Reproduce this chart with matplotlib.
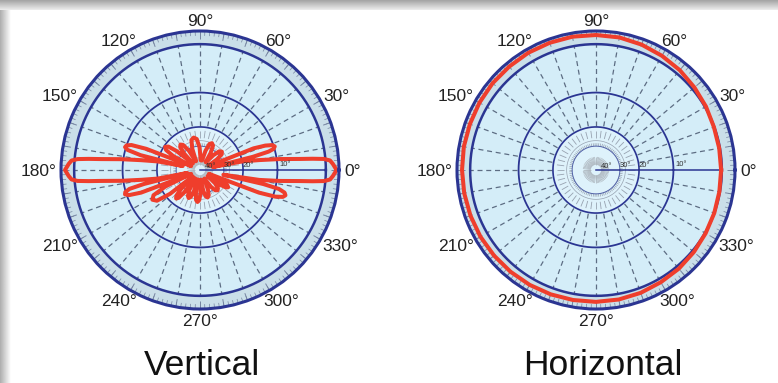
import numpy as np
import matplotlib
matplotlib.use('Agg')
import matplotlib.pyplot as plt
from matplotlib.transforms import ScaledTranslation

plt.rcParams['font.family'] = ['Liberation Sans', 'DejaVu Sans']

# ARRL log-periodic radius: every 2 dB down the radius shrinks by 0.89
K = -np.log(0.89) / 2.0


def to_radius(db):
    return np.exp(np.asarray(db, dtype=float) * K)


def to_db(r):
    return np.log(np.clip(np.asarray(r, dtype=float), 1e-12, None)) / K


# ---- data (angle in degrees, level in dB) ----
vert_angles = [0, 2.6, 4.2, 5.1, 5.7, 6.3, 7.8, 9.5, 11.5, 13,
               14, 15, 16, 17.5, 19, 20.5, 22, 23.5,
               28, 32, 36, 40, 44, 48, 52,
               54, 58, 62, 66, 70, 74, 78,
               86, 91, 96, 101, 106, 110, 114,
               116, 120, 124, 127.5, 131, 134, 137,
               138, 141, 143.5, 146.5, 149.5, 152.5, 156,
               157, 158.5, 160, 161.5, 163, 164.5, 166, 167,
               168.5, 170.5, 172.2, 173.7, 174.3, 174.9, 175.8, 177.4, 180,
               182.6, 184.2, 185.1, 185.7, 186.3, 187.8, 189.5, 191.5, 193,
               194, 195, 196.5, 198, 199.5, 201, 202.5,
               203.5, 205.5, 208.5, 212, 215.5, 218.5, 221,
               222, 225, 227.5, 230, 232.5, 235, 238,
               239, 242, 245, 248, 251, 254, 256,
               257, 260, 262.5, 265.5, 268.5, 271, 274,
               275, 279, 282, 285.5, 289, 292, 296,
               298, 303, 307, 311, 315, 318.5, 322,
               323.5, 326, 328.5, 331, 333.5, 336,
               337.5, 339, 340.5, 342, 343.5, 345, 346.5, 347.5, 348.5,
               350.5, 352.2, 353.7, 354.3, 354.9, 355.8, 357.4, 360]
vert_db = [-0.3, -0.75, -1.1, -1.9, -3.5, -5.5, -9.3, -14.3, -20, -40,
           -16, -11.5, -10.2, -9.8, -10.2, -11.8, -15, -40,
           -45, -33, -28, -27, -28, -33, -45,
           -45, -33, -27.5, -26.5, -27.5, -33, -45,
           -45, -31, -25.5, -24.5, -25.5, -31, -45,
           -45, -31, -26, -25, -26, -31, -45,
           -45, -26, -21.5, -20.5, -21.5, -26, -45,
           -40, -15, -11, -10, -9.8, -10.5, -14, -35,
           -20, -14.5, -9.5, -5.7, -3.7, -2.1, -1.3, -0.95, -0.5,
           -0.95, -1.3, -2.1, -3.7, -5.7, -9.5, -14.5, -20, -40,
           -15, -11, -9.9, -9.7, -10.5, -13.5, -40,
           -45, -22, -16.5, -15.5, -16.5, -22, -45,
           -45, -28, -23.5, -22.5, -23.5, -28, -45,
           -45, -31, -27, -26, -27, -31, -45,
           -45, -30, -26, -25, -26, -30, -45,
           -45, -32, -28, -27, -28, -32, -45,
           -45, -33, -29, -28, -29, -33, -45,
           -30, -25.5, -24.5, -25.5, -30, -45,
           -40, -13.5, -9.5, -8.0, -7.6, -7.9, -9.2, -13, -30,
           -14.3, -9.3, -5.5, -3.5, -1.9, -1.1, -0.75, -0.3]

horiz_angles = list(range(0, 361, 10))
horiz_db = [-1.8, -1.8, -1.75, -1.55, -1.35, -1.1, -0.9, -0.7, -0.55, -0.5,
            -0.45, -0.45, -0.45, -0.5, -0.5, -0.55, -0.6, -0.6, -0.63, -0.65,
            -0.68, -0.7, -0.74, -0.77, -0.8, -0.84, -0.88, -0.9, -0.95, -1.05,
            -1.2, -1.3, -1.45, -1.6, -1.7, -1.78, -1.8]

angle_ticks = list(range(0, 360, 30))
ring_levels = [-1.7, -10, -20]
db_labels = ['40°', '30°', '20°', '10°']
db_label_levels = [-55, -30, -20, -9.5]
titles = ['Vertical', 'Horizontal']

NAVY = '#2b3592'
RED = '#ef3e2c'
GRID = '#5d6d83'
TICK = '#7584a0'
FILL = '#d4edf8'
BAND = '#cadfe9'

full = np.linspace(0, 2 * np.pi, 721)
DPI = 100


def draw_chart(fig, ax, ang, db):
    ax.set_rscale('function', functions=(to_radius, to_db))
    ax.set_rlim(-100, 0)
    ax.set_xticks([])
    ax.set_yticks([])
    ax.grid(False)
    ax.set_facecolor(FILL)
    ax.spines['polar'].set_color(NAVY)
    ax.spines['polar'].set_linewidth(2.2)

    # scale band with degree ticks
    ax.fill_between(full, -1.7, 0, color=BAND, lw=0)
    ax.fill_between(full, -100, -20, color='#def2fb', lw=0)
    fine = np.deg2rad(np.arange(0, 360, 2))
    ax.vlines(fine, -0.6, 0, colors=TICK, lw=0.5)
    ax.vlines(np.deg2rad(np.arange(0, 360, 10)), -1.0, 0, colors=TICK, lw=0.7)

    # dashed spokes
    spokes = np.deg2rad(np.arange(10, 360, 10))
    ax.vlines(spokes, -19.5, -1.7, colors=GRID, lw=0.9, linestyles=(0, (4, 3)))
    inner = np.deg2rad(np.arange(0, 360, 7.5))
    ax.vlines(inner, -25, -21.5, colors='#97a2b0', lw=0.6)
    inner2 = np.deg2rad(np.arange(0, 360, 4))
    ax.vlines(inner2, -30, -28, colors='#97a2b0', lw=0.5)
    core = np.deg2rad(np.arange(0, 360, 6))
    ax.vlines(core, -55, -40, colors='#aab2ba', lw=0.5)

    for lvl, lw in zip(ring_levels, [1.8, 1.3, 1.2]):
        ax.plot(full, np.full_like(full, lvl), color=NAVY, lw=lw)
    ax.plot(full, np.full_like(full, -30), color='#5060a6', lw=0.7)
    ax.plot(full, np.full_like(full, -26.5), color='#97a2b0', lw=0.5)
    ax.plot([0, 0], [-100, -1.7], color=NAVY, lw=1.1)

    for lab, lvl in zip(db_labels, db_label_levels):
        ax.text(np.deg2rad(1.5), lvl, lab, fontsize=5.5, color='#333333',
                ha='left', va='bottom')

    ax.plot(np.deg2rad(ang), db, color=RED, lw=2.9, solid_joinstyle='round')

    # angle labels, kept a few pixels clear of the rim
    renderer = fig.canvas.get_renderer()
    fs = 12.5
    cap = fs * DPI / 72 * 0.72
    gap = 5
    for a in angle_ticks:
        t = np.deg2rad(a)
        c, s = np.cos(t), np.sin(t)
        txt = ax.text(t, 0, f'{a}°', fontsize=fs, color='#222222',
                      ha='center', va='center_baseline', clip_on=False)
        w = txt.get_window_extent(renderer).width
        dx = c * (gap + w / 2)
        dy = s * (gap + cap / 2)
        txt.set_transform(ax.transData + ScaledTranslation(
            dx / DPI, dy / DPI, fig.dpi_scale_trans))


fig = plt.figure(figsize=(7.78, 3.83), dpi=DPI)
fig.patch.set_facecolor('white')

# page shadow along the top and left edges
sh = fig.add_axes([0, 0, 11 / 778, 1])
sh.imshow(np.linspace(0.68, 1.0, 50)[None, :], cmap='gray', vmin=0, vmax=1,
          aspect='auto', extent=[0, 1, 0, 1])
sh.axis('off')
st = fig.add_axes([0, 1 - 10 / 383, 1, 10 / 383])
st.imshow(np.linspace(0.64, 0.93, 50)[:, None], cmap='gray', vmin=0, vmax=1,
          aspect='auto', extent=[0, 1, 0, 1])
st.axis('off')

centers = [200, 596]
patterns = [(vert_angles, vert_db), (horiz_angles, horiz_db)]
title_x = [202, 603]
R = 139
for cx, (ang, db), title, tx in zip(centers, patterns, titles, title_x):
    ax = fig.add_axes([(cx - R) / 778, (383 - 170 - R) / 383, 2 * R / 778, 2 * R / 383],
                      projection='polar')
    draw_chart(fig, ax, ang, db)
    fig.text(tx / 778, 8 / 383, title, ha='center', va='baseline',
             fontsize=25.5, color='#111111')

fig.savefig('out.png', dpi=DPI)
